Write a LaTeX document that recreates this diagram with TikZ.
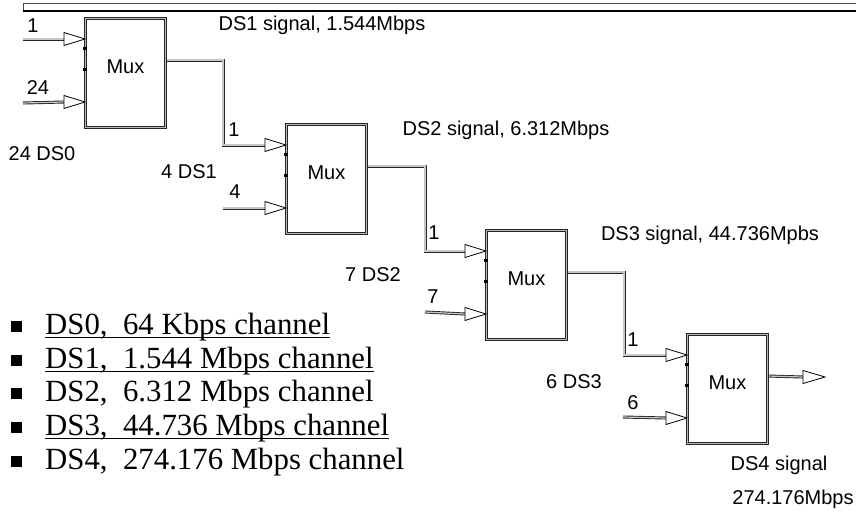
\documentclass[tikz,border=0pt]{standalone}
\usepackage{fontspec}
\setsansfont{Liberation Sans}
\newfontfamily\bulletfont{Liberation Serif}
\usetikzlibrary{calc}
\tikzset{
  muxbox/.style={draw=black!85, line width=0.9pt, double=gray!55, double distance=1.5pt,
    fill=white, minimum width=80pt, minimum height=109pt, inner sep=0pt, anchor=north west},
  wire/.style={draw=black!85, line width=0.9pt, double=gray!45, double distance=1.2pt},
  tipshape/.style={draw=black, line width=0.8pt, fill=white, line join=miter},
  lbl/.style={font=\sffamily\fontsize{20}{24}\selectfont, inner sep=0pt},
  pinmark/.style={fill=black},
  bullettext/.style={font=\bulletfont\fontsize{30.8}{36}\selectfont, inner sep=0pt, anchor=base west},
  bulletmark/.style={fill=black},
  uline/.style={line width=1.6pt},
}
\begin{document}
\begin{tikzpicture}[x=1pt,y=-1pt]
\useasboundingbox (0,0) rectangle (856,512);

% top bar
\fill[white] (23,3) rectangle (856,11);
\draw[gray!60!black, line width=0.8pt] (23,11) -- (23,3) -- (856,3);
\draw[black, line width=1.2pt] (23,11) -- (856,11);

\path (85,18) coordinate (p1) (286,124) coordinate (p2) (486,230) coordinate (p3) (687,334) coordinate (p4);
\foreach \i in {1,2,3,4}{
  \coordinate (m\i ia) at ($(p\i)+(0,21)$);
  \coordinate (m\i ib) at ($(p\i)+(0,84)$);
  \coordinate (m\i ta) at ($(p\i)+(-21,21)$);
  \coordinate (m\i tb) at ($(p\i)+(-21,84)$);
  \coordinate (m\i o) at ($(p\i)+(80,42)$);
}
% free ends of the input wires
\coordinate (s1a) at (23,39);
\coordinate (s1b) at (23,103);
\coordinate (s2b) at (223,208);
\coordinate (s3b) at (425,312);
\coordinate (s4b) at (623,417);
\coordinate (out4) at (803,377);

% wires
\draw[wire] (s1a) -- (m1ta);
\draw[wire] (s1b) -- (m1tb);
\draw[wire] (s2b) -- (m2tb);
\draw[wire] (s3b) -- (m3tb);
\draw[wire] (s4b) -- (m4tb);
\draw[wire] (m1o) -- ++(58,0) |- (m2ta);
\draw[wire] (m2o) -- ++(59,0) |- (m3ta);
\draw[wire] (m3o) -- ++(58,0) |- (m4ta);
\draw[wire] (m4o) -- (out4);

% boxes
\foreach \i in {1,2,3,4}{
  \node[muxbox] (m\i) at (p\i) {};
  \node[lbl] (mt\i) at ($(m\i.center)+(0,-6)$) {Mux};
  \draw[tipshape] (m\i ia) -- ++(-21,-6.5) -- ++(0,13) -- cycle;
  \draw[tipshape] (m\i ib) -- ++(-21,-6.5) -- ++(0,13) -- cycle;
  \fill[pinmark] ($(p\i)+(-1.6,29)$) rectangle ++(3.4,3.4);
  \fill[pinmark] ($(p\i)+(-1.6,50)$) rectangle ++(3.4,3.4);
}
\draw[tipshape] (out4) -- ++(0,-6.5) -- ++(22,6.5) -- ++(-22,6.5) -- cycle;

% labels
\node[lbl] (n1a) at (33,26) {1};
\node[lbl] (n1b) at (38,88) {24};
\node[lbl] (n2a) at (234,130) {1};
\node[lbl] (n2b) at (235,192) {4};
\node[lbl] (n3a) at (434,233) {1};
\node[lbl] (n3b) at (433,297) {7};
\node[lbl] (n4a) at (633,340) {1};
\node[lbl] (n4b) at (633,403) {6};

\node[lbl] (g1) at (322,25) {DS1 signal, 1.544Mbps};
\node[lbl] (g2) at (506,130) {DS2 signal, 6.312Mbps};
\node[lbl] (g3) at (710,235) {DS3 signal, 44.736Mpbs};
\node[lbl] (g4) at (779,465) {DS4 signal};
\node[lbl] (g5) at (793,499) {274.176Mbps};

\node[lbl] (c1) at (42,154) {24 DS0};
\node[lbl] (c2) at (189,172) {4 DS1};
\node[lbl] (c3) at (373,275) {7 DS2};
\node[lbl] (c4) at (574,382) {6 DS3};

% bullet list
\foreach \j/\y in {1/326,2/360,3/393,4/427,5/461}{
  \fill[bulletmark] (10.5,\y-5.5) rectangle (21.5,\y+5.5);
}
\node[bullettext] (b1) at (45,334.5) {DS0,\enspace 64 Kbps channel};
\node[bullettext] (b2) at (45,368.5) {DS1,\enspace 1.544 Mbps channel};
\node[bullettext] (b3) at (45,401.5) {DS2,\enspace 6.312 Mbps channel};
\node[bullettext] (b4) at (45,435.5) {DS3,\enspace 44.736 Mbps channel};
\node[bullettext] (b5) at (45,469.5) {DS4,\enspace 274.176 Mbps channel};
\draw[uline] ($(b1.base west)+(0,3)$) -- ($(b1.base east)+(0,3)$);
\draw[uline] ($(b2.base west)+(0,3)$) -- ($(b2.base east)+(0,3)$);
\draw[uline] ($(b4.base west)+(0,3)$) -- ($(b4.base east)+(0,3)$);
\end{tikzpicture}
\end{document}
